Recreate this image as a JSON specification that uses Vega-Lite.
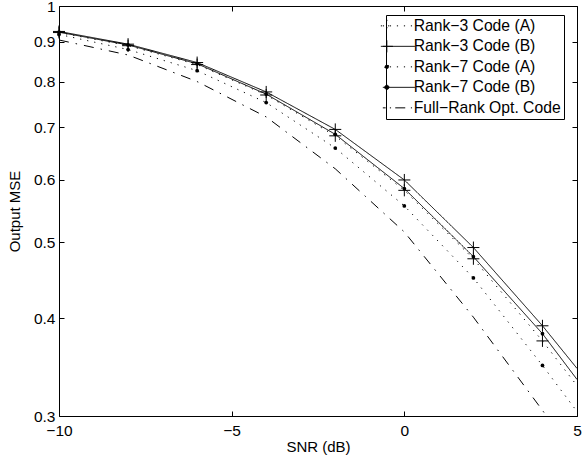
{
  "$schema": "https://vega.github.io/schema/vega-lite/v6.json",
  "width": 518,
  "height": 410,
  "autosize": {"type": "none"},
  "padding": {"left": 59, "top": 6, "right": 5, "bottom": 46},
  "background": "white",
  "config": {
    "view": {"stroke": "black", "strokeWidth": 1},
    "font": "Liberation Sans",
    "axis": {
      "labelFont": "Liberation Sans",
      "titleFont": "Liberation Sans",
      "labelFontSize": 15.5,
      "titleFontSize": 15,
      "titleFontWeight": "normal",
      "labelColor": "black",
      "titleColor": "black",
      "tickColor": "black",
      "tickSize": -5,
      "tickWidth": 1,
      "domain": false,
      "grid": false,
      "labelFlush": false,
      "labelOverlap": false
    }
  },
  "data": {
    "values": [
      {"x": -10, "y": 0.925, "s": "Rank−3 Code (A)"},
      {"x": -8, "y": 0.890, "s": "Rank−3 Code (A)"},
      {"x": -6, "y": 0.842, "s": "Rank−3 Code (A)"},
      {"x": -4, "y": 0.770, "s": "Rank−3 Code (A)"},
      {"x": -2, "y": 0.683, "s": "Rank−3 Code (A)"},
      {"x": 0, "y": 0.582, "s": "Rank−3 Code (A)"},
      {"x": 2, "y": 0.476, "s": "Rank−3 Code (A)"},
      {"x": 4, "y": 0.374, "s": "Rank−3 Code (A)"},
      {"x": 5, "y": 0.328, "s": "Rank−3 Code (A)"},
      {"x": -10, "y": 0.928, "s": "Rank−3 Code (B)"},
      {"x": -8, "y": 0.894, "s": "Rank−3 Code (B)"},
      {"x": -6, "y": 0.847, "s": "Rank−3 Code (B)"},
      {"x": -4, "y": 0.777, "s": "Rank−3 Code (B)"},
      {"x": -2, "y": 0.696, "s": "Rank−3 Code (B)"},
      {"x": 0, "y": 0.600, "s": "Rank−3 Code (B)"},
      {"x": 2, "y": 0.492, "s": "Rank−3 Code (B)"},
      {"x": 4, "y": 0.391, "s": "Rank−3 Code (B)"},
      {"x": 5, "y": 0.345, "s": "Rank−3 Code (B)"},
      {"x": -10, "y": 0.920, "s": "Rank−7 Code (A)"},
      {"x": -8, "y": 0.880, "s": "Rank−7 Code (A)"},
      {"x": -6, "y": 0.827, "s": "Rank−7 Code (A)"},
      {"x": -4, "y": 0.753, "s": "Rank−7 Code (A)"},
      {"x": -2, "y": 0.659, "s": "Rank−7 Code (A)"},
      {"x": 0, "y": 0.556, "s": "Rank−7 Code (A)"},
      {"x": 2, "y": 0.450, "s": "Rank−7 Code (A)"},
      {"x": 4, "y": 0.348, "s": "Rank−7 Code (A)"},
      {"x": 5, "y": 0.304, "s": "Rank−7 Code (A)"},
      {"x": -10, "y": 0.926, "s": "Rank−7 Code (B)"},
      {"x": -8, "y": 0.892, "s": "Rank−7 Code (B)"},
      {"x": -6, "y": 0.844, "s": "Rank−7 Code (B)"},
      {"x": -4, "y": 0.772, "s": "Rank−7 Code (B)"},
      {"x": -2, "y": 0.686, "s": "Rank−7 Code (B)"},
      {"x": 0, "y": 0.585, "s": "Rank−7 Code (B)"},
      {"x": 2, "y": 0.479, "s": "Rank−7 Code (B)"},
      {"x": 4, "y": 0.382, "s": "Rank−7 Code (B)"},
      {"x": 5, "y": 0.334, "s": "Rank−7 Code (B)"},
      {"x": -10, "y": 0.905, "s": "Full−Rank Opt. Code"},
      {"x": -8, "y": 0.866, "s": "Full−Rank Opt. Code"},
      {"x": -6, "y": 0.801, "s": "Full−Rank Opt. Code"},
      {"x": -4, "y": 0.722, "s": "Full−Rank Opt. Code"},
      {"x": -2, "y": 0.620, "s": "Full−Rank Opt. Code"},
      {"x": 0, "y": 0.515, "s": "Full−Rank Opt. Code"},
      {"x": 2, "y": 0.401, "s": "Full−Rank Opt. Code"},
      {"x": 4, "y": 0.305, "s": "Full−Rank Opt. Code"},
      {"x": 5, "y": 0.265, "s": "Full−Rank Opt. Code"}
    ]
  },
  "layer": [
    {
      "mark": {"type": "line", "clip": true, "color": "black", "strokeWidth": 1},
      "encoding": {
        "x": {"field": "x", "type": "quantitative",
              "scale": {"domain": [-10, 5], "nice": false, "zero": false},
              "axis": {"orient": "bottom", "values": [-10, -5, 0, 5], "format": "d", "title": "SNR (dB)", "labelPadding": 12, "titlePadding": 1}},
        "y": {"field": "y", "type": "quantitative",
              "scale": {"type": "log", "domain": [0.3, 1], "nice": false},
              "axis": {"orient": "left", "values": [0.3, 0.4, 0.5, 0.6, 0.7, 0.8, 0.9, 1], "format": "~g", "title": "Output MSE", "labelPadding": 9, "titlePadding": 11}},
        "detail": {"field": "s"},
        "strokeDash": {
          "field": "s", "type": "nominal",
          "scale": {
            "domain": ["Rank−3 Code (A)", "Rank−3 Code (B)", "Rank−7 Code (A)", "Rank−7 Code (B)", "Full−Rank Opt. Code"],
            "range": [[1.2, 6], [1, 0], [1.2, 6], [1, 0], [10, 7, 1.5, 7]]
          },
          "legend": {
            "orient": "none",
            "legendX": 327,
            "legendY": 9,
            "title": null,
            "strokeColor": "black",
            "fillColor": "white",
            "padding": 3,
            "rowPadding": 3.5,
            "symbolSize": 144,
            "symbolOffset": 2,
            "labelOffset": 7,
            "labelFont": "Liberation Sans",
            "labelFontSize": 15.7,
            "labelColor": "black",
            "labelLimit": 400,
            "symbolStrokeColor": "black",
            "symbolStrokeWidth": 1,
            "encode": {
              "symbols": {
                "update": {
                  "shape": {"signal": "datum.value == 'Rank−3 Code (A)' ? 'M-2.67,0h0.2M-1.5,0h0.2M-0.33,0h0.2M0.84,0h0.2M2.0,0h0.2M-3,0H-1M-2,-1V1' : datum.value == 'Rank−3 Code (B)' ? 'M-2.67,0H2.67M-3,0H-1M-2,-1V1' : datum.value == 'Rank−7 Code (A)' ? 'M-1.5,0h0.2M-0.33,0h0.2M0.84,0h0.2M2.0,0h0.2M-2.35,0a0.35,0.35 0 1,0 0.7,0a0.35,0.35 0 1,0 -0.7,0' : datum.value == 'Rank−7 Code (B)' ? 'M-2.67,0H2.67M-2.35,0a0.35,0.35 0 1,0 0.7,0a0.35,0.35 0 1,0 -0.7,0' : 'M-2.67,0H-2.2M-1.5,0h0.2M-0.6,0H1.33M2,0h0.2'"},
                  "strokeDash": {"value": [1, 0]},
                  "fill": {"value": "black"},
                  "stroke": {"value": "black"},
                  "strokeWidth": {"value": 1}
                }
              }
            }
          }
        }
      }
    },
    {
      "transform": [{"filter": "datum.x <= 4 && indexof(datum.s, 'Rank−3') == 0"}],
      "mark": {"type": "point", "shape": "M-1,0H1M0,-1V1", "size": 144, "filled": false, "stroke": "black", "strokeWidth": 1, "opacity": 1},
      "encoding": {
        "x": {"field": "x", "type": "quantitative",
              "axis": {"orient": "top", "values": [-10, -5, 0, 5], "labels": false, "title": null}},
        "y": {"field": "y", "type": "quantitative",
              "axis": {"orient": "right", "values": [0.3, 0.4, 0.5, 0.6, 0.7, 0.8, 0.9, 1], "labels": false, "title": null}}
      }
    },
    {
      "transform": [{"filter": "datum.x <= 4 && indexof(datum.s, 'Rank−7') == 0"}],
      "mark": {"type": "point", "shape": "circle", "size": 14, "filled": true, "color": "black", "opacity": 1},
      "encoding": {
        "x": {"field": "x", "type": "quantitative", "axis": null},
        "y": {"field": "y", "type": "quantitative", "axis": null}
      }
    }
  ],
  "resolve": {"axis": {"x": "independent", "y": "independent"}}
}
